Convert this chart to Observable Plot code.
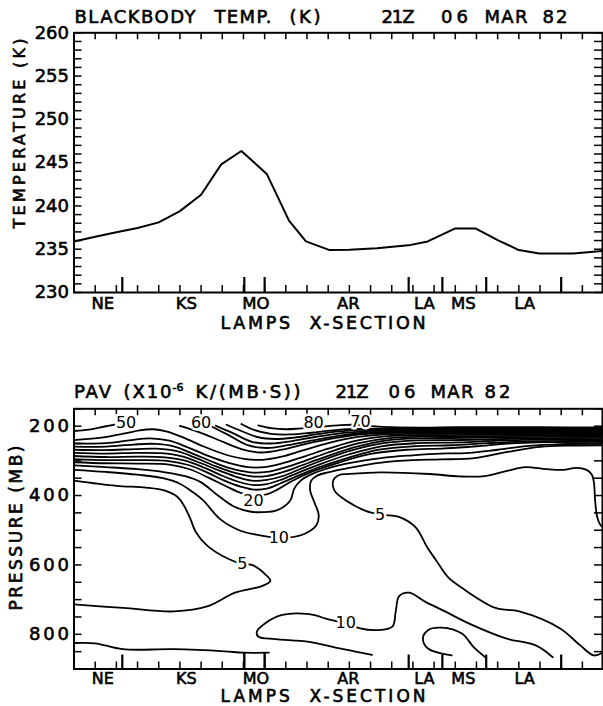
<!DOCTYPE html>
<html><head><meta charset="utf-8">
<script src="https://cdn.jsdelivr.net/npm/d3@7"></script>
<script src="https://cdn.jsdelivr.net/npm/@observablehq/plot@0.6"></script>
<style>
html,body{margin:0;padding:0;background:#fff;}
#wrap{position:relative;width:603px;height:706px;overflow:hidden;background:#fff;}
#wrap svg{position:absolute;left:0;}
</style></head>
<body><div id="wrap"></div>
<script>
// ---------------- DATA ----------------
// x positions along the LAMPS cross-section (grid-point units)
const gridTicks = [0,1,2,3,4,5,6,7,8,9,10,11,12,13,14,15,16,17,18,19,20,21,22,23,24];
const stationTicks = [2.28, 8.04, 9.0, 15.8, 17.39, 19.46, 23.0];
const moTicks = [8.04, 9.0];
const stationNames = ["NE","KS","MO","AR","LA","MS","LA"];
const stationLabelX = [1.36, 5.3, 8.59, 12.95, 16.54, 18.38, 21.27];

// top panel: blackbody temperature (K)
const tempX = [0,1,2,3,4,5,6,6.95,7.9,9.1,10.15,10.95,12.07,13,14.3,15.9,16.7,18.0,18.95,20.05,21.0,21.97,23.57,25];
const tempK = [235.9,236.45,236.95,237.45,238.1,239.4,241.3,244.8,246.35,243.7,238.3,235.9,234.9,234.95,235.1,235.5,235.9,237.4,237.4,236.0,234.9,234.5,234.5,234.8];
const tempTicks = [230,235,240,245,250,255,260];

// bottom panel: PAV contours, [x, pressure mb]
const presTicks = [200,400,600,800];
const c50 = [[0,214],[0.7,210],[1.45,201],[1.9,196]];
const cT1 = [[8.7,198],[9.3,206],[10.0,209],[10.6,207],[11.3,203],[12.0,200],[12.6,197],[13.1,196],[13.6,197],[14.1,200],[15,203],[16.5,204],[18,203],[20,203],[22,203],[25,204]];
const cT2 = [[7.9,194],[8.5,211],[9.3,222],[10.2,224],[11.2,219],[12.2,212],[13.2,208],[14.5,207],[16,207],[18,206],[20,206],[22,206],[25,207]];
const cT3 = [[7.2,196],[7.9,214],[8.7,232],[9.5,237],[10.4,233],[11.4,224],[12.4,216],[13.5,211],[15,210],[17,209],[19,209],[21,209],[23,209],[25,210]];
const cT4 = [[6.7,199],[7.5,220],[8.4,245],[9.3,250],[10.3,243],[11.3,232],[12.4,222],[13.6,215],[15,213],[17,212],[19,212],[21,212],[23,212],[25,213]];
const cT5 = [[6.5,201],[7.3,226],[8.2,255],[9.1,263],[10.1,255],[11.2,242],[12.4,229],[13.7,219],[15,216],[17,215],[19,215],[21,215],[23,215],[25,216]];
const cT6 = [[5.0,199],[5.9,217],[6.9,242],[7.9,266],[8.8,276],[9.8,268],[10.9,252],[12.1,237],[13.5,224],[15,219],[17,218],[19,218],[21,218],[23,218],[25,219]];
const cT7 = [[0,240],[1.2,234],[2.4,221],[3.1,212],[3.75,209],[4.4,216],[5.2,234],[6.1,258],[7.1,281],[8.1,295],[8.9,297],[9.8,288],[10.8,270],[12.0,249],[13.4,231],[15,223],[17,222],[19,221],[21,221],[23,221],[25,222]];
const cT8 = [[0,250],[1.5,249],[2.7,240],[3.6,235],[4.5,242],[5.4,262],[6.3,285],[7.3,306],[8.2,318],[9.0,318],[9.9,306],[10.9,287],[12.0,265],[13.4,241],[15,228],[17,226],[19,225],[21,224],[23,224],[25,225]];
const cT9 = [[0,259],[1.5,259],[2.8,253],[3.8,251],[4.7,258],[5.6,279],[6.5,302],[7.4,322],[8.3,333],[9.1,332],[9.9,320],[10.9,300],[12.0,276],[13.4,250],[15,234],[17,230],[19,229],[21,228],[23,227],[25,228]];
const cT10 = [[0,268],[1.5,269],[2.9,266],[3.9,265],[4.9,273],[5.8,293],[6.7,316],[7.6,335],[8.4,345],[9.1,344],[9.9,332],[10.8,312],[11.9,288],[13.3,260],[14.8,241],[16.5,235],[18.5,234],[20.5,232],[22.5,231],[25,231]];
const cT11 = [[0,277],[1.5,279],[3,277],[4.1,278],[5.1,287],[6.0,307],[6.9,329],[7.7,347],[8.4,357],[9.1,355],[9.9,343],[10.7,323],[11.7,299],[13.1,270],[14.6,249],[16.3,241],[18.3,240],[20.3,237],[22.3,235],[25,234]];
const cT12 = [[0,286],[1.5,289],[3,288],[4.3,290],[5.3,300],[6.2,321],[7.0,343],[7.8,361],[8.5,370],[9.1,367],[9.8,354],[10.6,334],[11.6,310],[13,281],[14.5,258],[16.2,249],[18.2,247],[20,242],[22,239],[25,238]];
const cT13 = [[0,295],[1.5,298],[3,298],[4.4,300],[5.4,312],[6.3,334],[7.1,357],[7.9,375],[8.5,383],[9.1,380],[9.7,366],[10.5,345],[11.5,320],[12.9,292],[14.4,268],[16,258],[17.8,255],[19.5,249],[21.5,244],[25,242]];
const c20 = [[0,304],[1.5,307],[3,308],[4.5,311],[5.5,325],[6.4,350],[7.2,374],[7.9,393],[8.5,400],[9.1,397],[9.6,383],[10.3,358],[11.2,332],[12.5,305],[14.0,280],[15.7,268],[17.5,264],[19,258],[20.5,250],[22.5,246],[25,245]];
const c15 = [[0,313],[1.5,318],[3,324],[4.3,333],[5.3,345],[6.0,362],[6.8,400],[7.5,430],[8.3,446],[8.9,448],[9.6,442],[10.2,415],[10.4,380],[10.7,357],[11.1,342],[11.8,325],[12.8,309],[14.5,292],[16,284],[17.3,279],[18.5,278],[20,268],[21.5,257],[23,252],[25,250]];
const c10 = [[0,326],[1.5,332],[3,340],[4.2,350],[5.0,366],[5.6,390],[6.1,414],[6.9,468],[7.8,500],[8.6,513],[9.2,519],[10.1,521],[10.9,510],[11.45,485],[11.55,455],[11.35,420],[11.15,385],[11.2,357],[11.5,342],[12.0,333],[13,320],[14.5,305],[16,298],[17.3,296],[18.9,292],[20.4,275],[22,260],[23.5,256],[25,255]];
const c5r = [[25,851],[24.55,861],[23.9,832],[22.95,783],[21.03,734],[19.9,724],[18.31,666],[17.67,636],[17.1,587],[16.68,550],[16.13,492],[15.4,463],[14.5,455],[13.77,444],[12.86,415],[12.3,386],[12.25,355],[12.55,340],[12.9,338],[14.46,333],[16.8,338],[18.2,345],[19.4,344],[20.5,328],[21.3,318],[22.3,324],[23.1,326],[23.7,320],[24.2,326],[24.45,340],[24.55,365],[24.6,414],[24.7,462],[24.85,485],[25,492]];
const c5l = [[0,357],[2.0,372],[3.4,377],[4.3,386],[4.9,405],[5.2,430],[5.5,468],[5.75,505],[6.3,545],[7.3,583],[7.95,597],[8.4,600],[9.03,627],[9.27,646],[8.87,661],[7.6,680],[6.32,719],[4.72,734],[2.32,724],[0,714]];
const cLow = [[0,825],[1.0,826],[2.3,843],[4.7,843],[7.1,849],[8.0,853],[9.2,853]];
const c10low = [[14.07,859],[12.71,843],[11.11,822],[9.51,814],[8.71,807],[8.63,793],[9.03,768],[9.83,744],[11.11,742],[12.07,758],[12.85,768],[13.51,783],[14.31,788],[15.03,778],[15.19,734],[15.35,690],[15.83,680],[16.55,705],[17.51,734],[18.79,773],[20.39,812],[21.8,832],[22.6,866]];
const cInner = [[17.83,861],[16.71,841],[16.47,812],[16.71,788],[17.35,781],[18.31,798],[18.87,837],[19.45,868]];

const labelText = ["50","60","80","70","20","10","5","5","10"];
const labelX = [2.46, 6.0, 11.31, 13.52, 8.47, 9.67, 7.95, 14.45, 12.83];
const labelP = [191, 191, 191, 189, 415, 522, 597, 455, 768];

// ---------------- BUILD ----------------
const wrap = document.getElementById("wrap");
const FONT = "DejaVu Sans";
const INK = {fill: "black", stroke: "black", strokeWidth: 0.6};

const stations = stationNames.map((n, i) => ({name: n, x: stationLabelX[i]}));
const temp = tempX.map((x, i) => ({x, t: tempK[i]}));
const contours = {c50,cT1,cT2,cT3,cT4,cT5,cT6,cT7,cT8,cT9,cT10,cT11,cT12,cT13,c20,c15,c10,c5r,c5l,cLow,c10low,cInner};
const contourRows = Object.entries(contours).flatMap(([id, pts]) => pts.map(([x, p]) => ({id, x, p})));
const labels = labelText.map((t, i) => ({t, x: labelX[i], p: labelP[i]}));

function wordMarks(list, ml, mt, yc, size) {
  return list.map(([t, x]) => Plot.text([t], {frameAnchor: "top-left", text: d => d, dx: x - ml, dy: yc - mt,
    textAnchor: "start", lineAnchor: "middle", fontSize: size, ...INK}));
}
function fit(svg, widths) {
  d3.select(svg).selectAll("text").each(function () {
    const t = this.textContent;
    if (widths[t] != null) { this.setAttribute("textLength", widths[t]); this.setAttribute("lengthAdjust", "spacing"); }
  });
}

// ---- top panel ----
{
  const W = 603, H = 340, ML = 73.5, MR = 1, MT = 32.3, MB = 48;
  const FW = W - ML - MR, FH = H - MT - MB, FB = H - MB;
  const svg = Plot.plot({
    width: W, height: H, marginLeft: ML, marginRight: MR, marginTop: MT, marginBottom: MB,
    x: {domain: [0, 24.95], axis: null},
    y: {domain: [230, 260], axis: null},
    style: {fontFamily: FONT, background: "transparent", overflow: "visible", color: "black"},
    marks: [
      Plot.tickX(gridTicks, {x: d => d, insetTop: FH - 7, strokeWidth: 1.5}),
      Plot.tickX(gridTicks, {x: d => d, insetBottom: FH - 7, strokeWidth: 1.5}),
      Plot.tickX(stationTicks, {x: d => d, insetTop: FH - 15, strokeWidth: 2.2}),
      Plot.tickY(d3.range(230, 261), {y: d => d, insetRight: FW - 8, strokeWidth: 1.5}),
      Plot.tickY(d3.range(230, 261), {y: d => d, insetLeft: FW - 8, strokeWidth: 1.5}),
      Plot.line(temp, {x: "x", y: "t", stroke: "black", strokeWidth: 2, clip: true}),
      Plot.frame({stroke: "black", strokeWidth: 2}),
      Plot.text(tempTicks, {y: d => d, text: d => String(d), frameAnchor: "left", textAnchor: "end", lineAnchor: "middle", dx: -5, fontSize: 18, ...INK}),
      Plot.text(stations, {x: "x", text: "name", frameAnchor: "bottom", lineAnchor: "middle", dy: 303.5 - FB, fontSize: 16.5, ...INK}),
      Plot.text(["LAMPS  X-SECTION"], {frameAnchor: "bottom-left", text: d => d, textAnchor: "start", lineAnchor: "middle", dx: 220 - ML, dy: 322.5 - FB, fontSize: 17.5, ...INK}),
      Plot.text(["TEMPERATURE (K)"], {frameAnchor: "top-left", text: d => d, rotate: -90, textAnchor: "start", lineAnchor: "middle", dx: 19 - ML, dy: 228 - MT, fontSize: 16, ...INK}),
      ...wordMarks([["BLACKBODY", 74], ["TEMP.", 214], ["(K)", 289], ["21Z", 381], ["06", 440.5], ["MAR", 484], ["82", 542]], ML, MT, 17, 18)
    ]
  });
  fit(svg, {"BLACKBODY": 121, "TEMP.": 57, "(K)": 31, "21Z": 33, "06": 27, "MAR": 43, "82": 25,
            "LAMPS  X-SECTION": 205, "TEMPERATURE (K)": 190});
  svg.style.top = "0px";
  wrap.appendChild(svg);
}

// ---- bottom panel ----
{
  const W = 603, H = 346, ML = 73.5, MR = 1, MT = 48.3, MB = 37.5;
  const FW = W - ML - MR, FH = H - MT - MB, FB = H - MB;
  const TOP = 360;
  const svg = Plot.plot({
    width: W, height: H, marginLeft: ML, marginRight: MR, marginTop: MT, marginBottom: MB,
    x: {domain: [0, 24.95], axis: null},
    y: {domain: [150, 900], reverse: true, axis: null},
    style: {fontFamily: FONT, background: "transparent", overflow: "visible", color: "black"},
    marks: [
      Plot.tickX(gridTicks, {x: d => d, insetTop: FH - 7, strokeWidth: 1.5}),
      Plot.tickX(gridTicks, {x: d => d, insetBottom: FH - 7, strokeWidth: 1.5}),
      Plot.tickX(stationTicks.filter(d => !moTicks.includes(d)), {x: d => d, insetTop: FH - 14, strokeWidth: 2.2}),
      Plot.tickX(moTicks, {x: d => d, insetTop: FH - 16.3, strokeWidth: 2.4}),
      Plot.tickY(d3.range(150, 901, 50), {y: d => d, insetRight: FW - 8, strokeWidth: 1.5}),
      Plot.tickY(d3.range(150, 901, 50), {y: d => d, insetLeft: FW - 8, strokeWidth: 1.5}),
      Plot.line(contourRows, {x: "x", y: "p", z: "id", curve: "catmull-rom", stroke: "black", strokeWidth: 1.8, clip: true}),
      Plot.text(labels, {x: "x", y: "p", text: "t", fontSize: 16, fill: "black", stroke: "white", strokeWidth: 5}),
      Plot.frame({stroke: "black", strokeWidth: 2}),
      Plot.text(presTicks, {y: d => d, text: d => String(d), frameAnchor: "left", textAnchor: "end", lineAnchor: "middle", dx: -5, fontSize: 18, ...INK}),
      Plot.text(stations, {x: "x", text: "name", frameAnchor: "bottom", lineAnchor: "middle", dy: (678.3 - TOP) - FB, fontSize: 16, ...INK}),
      Plot.text(["LAMPS  X-SECTION"], {frameAnchor: "bottom-left", text: d => d, textAnchor: "start", lineAnchor: "middle", dx: 220 - ML, dy: (696.5 - TOP) - FB, fontSize: 17, ...INK}),
      Plot.text(["PRESSURE (MB)"], {frameAnchor: "top-left", text: d => d, rotate: -90, textAnchor: "start", lineAnchor: "middle", dx: 16 - ML, dy: (610 - TOP) - MT, fontSize: 17, ...INK}),
      ...wordMarks([["PAV", 73.5], ["(X10", 123], ["K/(MB·S))", 195], ["21Z", 335], ["06", 388], ["MAR", 430], ["82", 484]], ML, MT, 391.7 - TOP, 18),
      ...wordMarks([["-6", 172]], ML, MT, 386.5 - TOP, 11)
    ]
  });
  fit(svg, {"PAV": 37, "(X10": 48, "K/(MB·S))": 105, "21Z": 33, "06": 27, "MAR": 43, "82": 26,
            "LAMPS  X-SECTION": 205, "PRESSURE (MB)": 165, "200": 40, "400": 40, "600": 40, "800": 40});
  svg.style.top = TOP + "px";
  wrap.appendChild(svg);
}
</script>
</body></html>
